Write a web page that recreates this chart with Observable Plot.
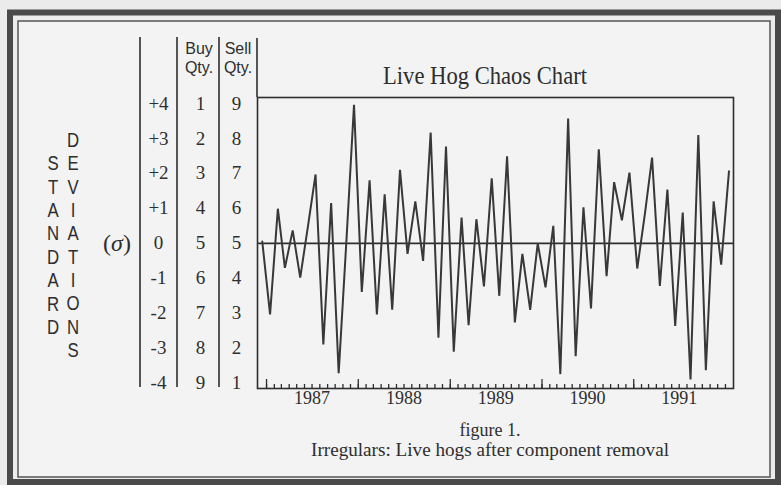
<!DOCTYPE html>
<html><head><meta charset="utf-8">
<script src="https://cdn.jsdelivr.net/npm/d3@7"></script>
<script src="https://cdn.jsdelivr.net/npm/@observablehq/plot@0.6"></script>
<style>
html,body{margin:0;padding:0;background:#ebebeb;}
#chart{width:781px;height:485px;}
</style></head><body><div id="chart"></div>
<script>
// ---- data (monthly irregulars, in standard deviations) ----
const firstMonth = {year: 1986, month: 12}; // December 1986
const irregulars = [
  0.05, -2.03, 0.99, -0.70, 0.37, -0.98, 0.50, 1.97, -2.89, 1.15, -3.71, 0.10,
  3.96, -1.39, 1.80, -2.03, 1.40, -1.90, 2.10, -0.30, 1.20, -0.50, 3.17, -2.70,
  2.77, -3.10, 0.74, -2.34, 0.69, -1.23, 1.86, -1.50, 2.49, -2.26, -0.30, -1.90,
  0.00, -1.26, 0.50, -3.74, 3.57, -3.23, 1.03, -1.86, 2.69, -0.94, 1.75, 0.66,
  2.02, -0.72, 0.87, 2.45, -1.22, 1.54, -2.36, 0.88, -3.89, 3.10, -3.63, 1.20,
  -0.61, 2.06
];
const sigmaTicks  = [4, 3, 2, 1, 0, -1, -2, -3, -4];
const sigmaLabels = ["+4", "+3", "+2", "+1", "0", "-1", "-2", "-3", "-4"];
const buyQty  = [1, 2, 3, 4, 5, 6, 7, 8, 9];
const sellQty = [9, 8, 7, 6, 5, 4, 3, 2, 1];
const yearLabels = ["1987", "1988", "1989", "1990", "1991"];
const leftWord  = "STANDARD";
const rightWord = "DEVIATIONS";
const titleText = "Live Hog Chaos Chart";
const figureText = "figure 1.";
const captionText = "Irregulars: Live hogs after component removal";

// ---- build tables ----
const series = irregulars.map((v, i) => ({
  date: new Date(Date.UTC(firstMonth.year, firstMonth.month - 1 + i, 15)), v
}));
const rows = sigmaTicks.map((s, i) => ({s, lab: sigmaLabels[i], buy: buyQty[i], sell: sellQty[i]}));
const monthTicks = d3.utcMonth.range(new Date(Date.UTC(1987, 0, 1)), new Date(Date.UTC(1992, 0, 2)));
const yearTicks = yearLabels.map(y => new Date(Date.UTC(+y, 0, 1)));

const ink = "#2e2e2e";
const serif = "'Liberation Serif', 'DejaVu Serif', serif";
const sans = "'Liberation Sans', Arial, sans-serif";

const plot = Plot.plot({
  width: 781, height: 485,
  marginLeft: 257, marginRight: 48, marginTop: 97, marginBottom: 97,
  style: {background: "transparent", fontFamily: serif, color: ink, overflow: "visible"},
  x: {type: "utc", domain: [new Date(Date.UTC(1986, 10, 26)), new Date(Date.UTC(1992, 1, 2))], axis: null},
  y: {domain: [-4.15, 4.17], axis: null},
  marks: [
    Plot.ruleY([0], {stroke: ink, strokeWidth: 1.6}),
    Plot.line(series, {x: "date", y: "v", stroke: "#383838", strokeWidth: 2, strokeLinejoin: "miter"}),
    Plot.axisX(monthTicks, {anchor: "bottom", tickSize: -4, fill: "none", stroke: ink, strokeWidth: 1.3, label: null}),
    Plot.axisX(yearTicks, {anchor: "bottom", tickSize: -9, fill: "none", stroke: ink, strokeWidth: 1.3, label: null}),
    Plot.text(yearLabels, {x: d => new Date(Date.UTC(+d, 6, 1)), text: d => d, frameAnchor: "bottom", dy: 15, fontSize: 18, fill: ink}),
    Plot.frame({stroke: ink, strokeWidth: 1.6}),
    Plot.text(rows, {y: "s", text: "lab", frameAnchor: "left", textAnchor: "middle", dx: -99, fontSize: 19, fill: ink}),
    Plot.text(rows, {y: "s", text: "buy", frameAnchor: "left", textAnchor: "middle", dx: -57, fontSize: 19, fill: ink}),
    Plot.text(rows, {y: "s", text: "sell", frameAnchor: "left", textAnchor: "middle", dx: -21, fontSize: 19, fill: ink})
  ]
});

// ---- decorations (frame, headers, title, caption) ----
const svg = d3.select(plot);
const deco = svg.insert("g", ":first-child");
deco.append("rect").attr("x", 0).attr("y", 0).attr("width", 781).attr("height", 485).attr("fill", "#ebebeb");
deco.append("rect").attr("x", 18).attr("y", 21).attr("width", 752).attr("height", 456)
  .attr("fill", "#f3f3f3").attr("stroke", "#555").attr("stroke-width", 1.5);
deco.append("rect").attr("x", 10).attr("y", 12.5).attr("width", 768).attr("height", 469.5)
  .attr("fill", "none").attr("stroke", "#4a4a4a").attr("stroke-width", 6);

const over = svg.append("g");
[140, 177, 219].forEach(x => over.append("line").attr("x1", x).attr("x2", x).attr("y1", 37).attr("y2", 387)
  .attr("stroke", ink).attr("stroke-width", 1.6));
over.append("line").attr("x1", 257).attr("x2", 257).attr("y1", 38).attr("y2", 97).attr("stroke", ink).attr("stroke-width", 1.6);

const hdr = (t, x, y) => over.append("text").attr("x", x).attr("y", y).attr("text-anchor", "middle")
  .attr("dominant-baseline", "central").attr("font-family", sans).attr("font-size", 16).attr("fill", ink).text(t);
hdr("Buy", 199, 48); hdr("Qty.", 199, 67); hdr("Sell", 238, 48); hdr("Qty.", 238, 67);

over.append("text").attr("x", 485).attr("y", 75).attr("text-anchor", "middle").attr("dominant-baseline", "central")
  .attr("font-family", serif).attr("font-size", 26).attr("fill", ink)
  .attr("textLength", 204).attr("lengthAdjust", "spacingAndGlyphs").text(titleText);

over.append("text").attr("x", 490).attr("y", 430).attr("text-anchor", "middle").attr("dominant-baseline", "central")
  .attr("font-family", serif).attr("font-size", 18).attr("fill", ink).text(figureText);
over.append("text").attr("x", 490).attr("y", 450).attr("text-anchor", "middle").attr("dominant-baseline", "central")
  .attr("font-family", serif).attr("font-size", 18).attr("fill", ink)
  .attr("textLength", 358).attr("lengthAdjust", "spacingAndGlyphs").text(captionText);

const letter = (ch, x, y) => over.append("text").attr("transform", `translate(${x},${y}) scale(0.8,1)`)
  .attr("text-anchor", "middle").attr("dominant-baseline", "central")
  .attr("font-family", sans).attr("font-size", 21).attr("fill", ink).text(ch);
leftWord.split("").forEach((c, i) => letter(c, 53, 163 + 23.4 * i));
rightWord.split("").forEach((c, i) => letter(c, 73, 140 + 23.3 * i));

const sig = over.append("text").attr("x", 117).attr("y", 243).attr("text-anchor", "middle").attr("dominant-baseline", "central")
  .attr("font-family", serif).attr("font-size", 24).attr("fill", ink);
sig.append("tspan").text("(");
sig.append("tspan").attr("font-style", "italic").text("σ");
sig.append("tspan").text(")");

document.getElementById("chart").appendChild(plot);
</script>
</body></html>
